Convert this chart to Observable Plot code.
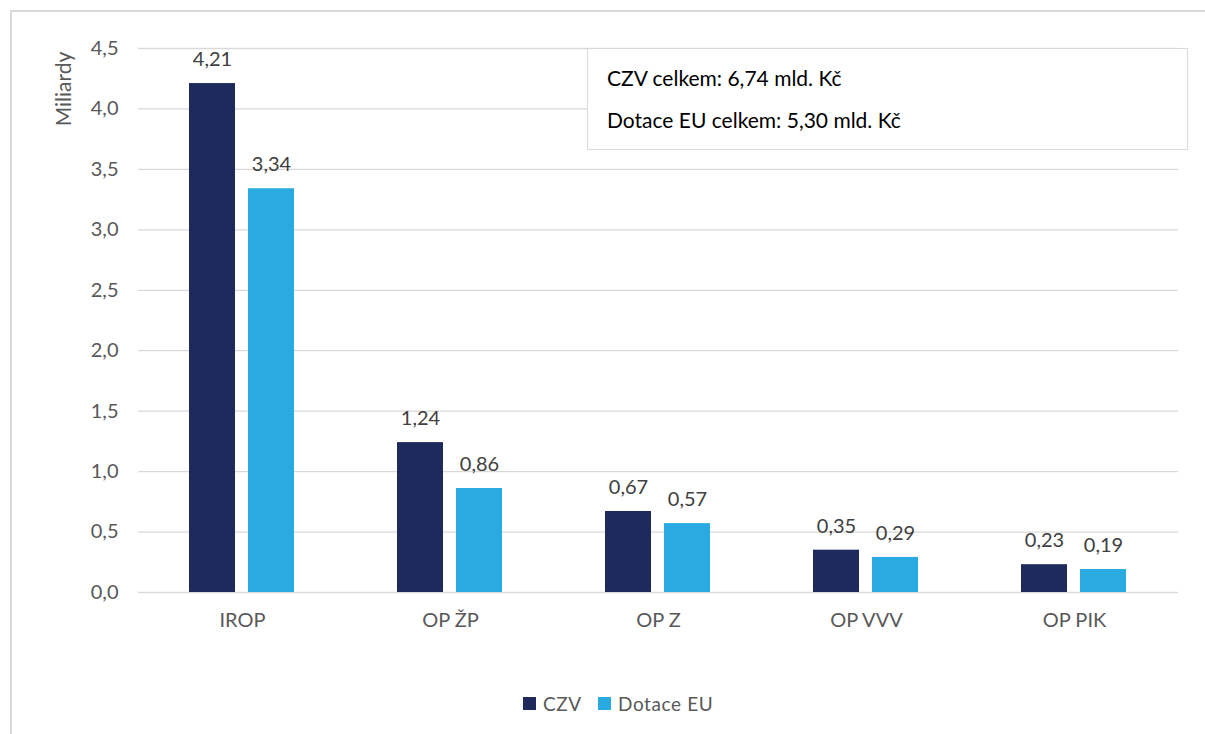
<!DOCTYPE html>
<html>
<head>
<meta charset="utf-8">
<script src="https://cdn.jsdelivr.net/npm/d3@7"></script>
<script src="https://cdn.jsdelivr.net/npm/@observablehq/plot@0.6"></script>
<style>
  html, body { margin: 0; padding: 0; background: #fff; }
  #wrap { position: relative; width: 1205px; height: 734px; font-family: Lato, "Open Sans", sans-serif; overflow: hidden; }
  #frame { position: absolute; left: 10px; top: 10px; width: 1300px; height: 800px; border-left: 2px solid #d9d9d9; border-top: 2px solid #d9d9d9; box-sizing: border-box; }
  #ylabel { position: absolute; left: 62px; top: 89px; transform: translate(-50%, -50%) rotate(-90deg); font-size: 21px; color: #595959; white-space: nowrap; }
  #note { position: absolute; left: 587px; top: 48px; width: 601px; height: 102px; border: 1.5px solid #d9d9d9; box-sizing: border-box; background: #fff; font-size: 21px; color: #000; }
  #note div { position: absolute; left: 19px; white-space: nowrap; }
  #legend { position: absolute; top: 692px; left: 0; width: 1205px; font-size: 19px; color: #595959; }
  .li { position: absolute; display: flex; align-items: center; white-space: nowrap; letter-spacing: 0.6px; }
  .sw { width: 13px; height: 13px; margin-right: 7px; }
  svg { position: absolute; left: 0; top: 0; }
</style>
</head>
<body>
<div id="wrap">
  <div id="frame"></div>
  <div id="chart"></div>
  <div id="ylabel">Miliardy</div>
  <div id="note"></div>
  <div id="legend"></div>
</div>
<script>
const categories = ["IROP", "OP ŽP", "OP Z", "OP VVV", "OP PIK"];
const series = ["CZV", "Dotace EU"];
const czvValues = [4.21, 1.24, 0.67, 0.35, 0.23];
const euValues = [3.34, 0.86, 0.57, 0.29, 0.19];
const colors = ["#1f2a5c", "#29abe2"];
const yTicks = [0, 0.5, 1, 1.5, 2, 2.5, 3, 3.5, 4, 4.5];
const noteLines = ["CZV celkem: 6,74 mld. Kč", "Dotace EU celkem: 5,30 mld. Kč"];

const data = [];
categories.forEach((c, i) => {
  data.push({cat: c, series: series[0], value: czvValues[i]});
  data.push({cat: c, series: series[1], value: euValues[i]});
});

const fmt1 = d => d.toFixed(1).replace(".", ",");
const fmt2 = d => d.toFixed(2).replace(".", ",");

const chart = Plot.plot({
  width: 1205,
  height: 734,
  marginLeft: 138,
  marginRight: 27,
  marginTop: 48,
  marginBottom: 142,
  style: {fontFamily: "Lato, 'Open Sans', sans-serif", color: "#595959", background: "transparent"},
  fx: {domain: categories, padding: 0, label: null},
  x: {domain: series, paddingInner: 0.2167, paddingOuter: 0.8417, axis: null},
  y: {domain: [0, 4.5], label: null},
  color: {domain: series, range: colors},
  marks: [
    Plot.gridY(yTicks, {stroke: "#d9d9d9", strokeOpacity: 1, strokeWidth: 1.3}),
    Plot.barY(data, {fx: "cat", x: "series", y: "value", fill: "series"}),
    Plot.text(data, {fx: "cat", x: "series", y: "value", text: d => fmt2(d.value), dy: -24, fontSize: 20, fill: "#404040"}),
    Plot.axisY({ticks: yTicks, tickFormat: fmt1, tickSize: 0, tickPadding: 20, fontSize: 20, label: null}),
    Plot.axisFx({anchor: "bottom", tickSize: 0, tickPadding: 20, fontSize: 20, label: null})
  ]
});
document.getElementById("chart").appendChild(chart);

const note = document.getElementById("note");
noteLines.forEach((t, i) => {
  const d = document.createElement("div");
  d.textContent = t;
  d.style.top = (16 + i * 42) + "px";
  note.appendChild(d);
});

const legend = document.getElementById("legend");
const legendX = [523, 598];
series.forEach((s, i) => {
  const li = document.createElement("div");
  li.className = "li";
  li.style.left = legendX[i] + "px";
  li.innerHTML = `<span class="sw" style="background:${colors[i]}"></span><span>${s}</span>`;
  legend.appendChild(li);
});
</script>
</body>
</html>
